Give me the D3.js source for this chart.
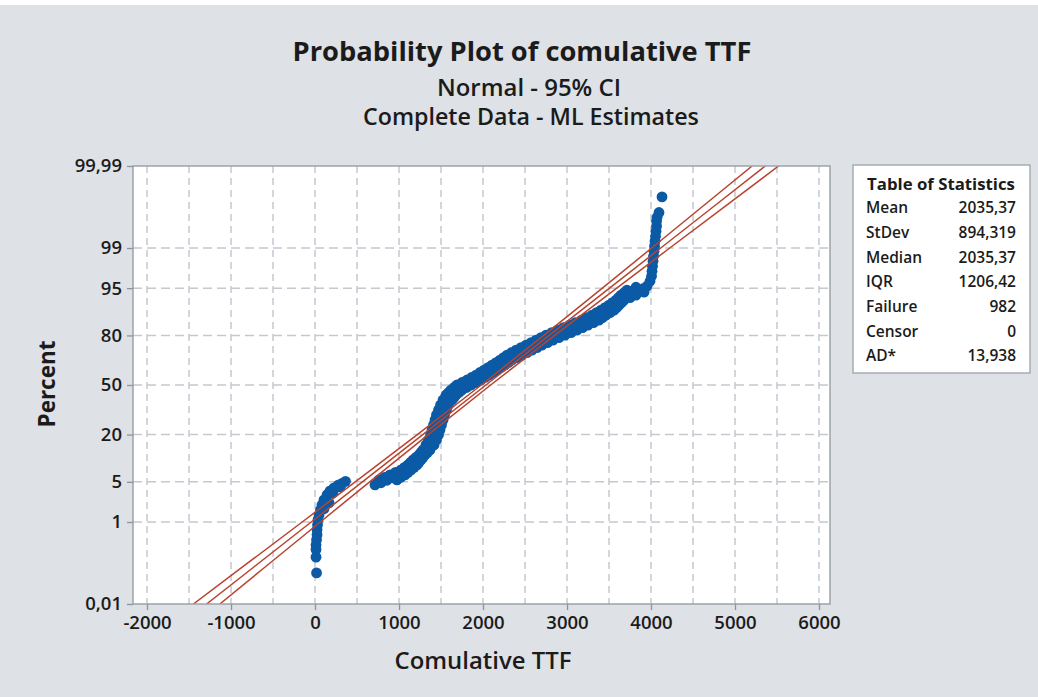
<!DOCTYPE html>
<html><head><meta charset="utf-8">
<script src="https://cdn.jsdelivr.net/npm/d3@7"></script>
<style>body{margin:0;background:#dee1e5;} svg{display:block}</style>
</head><body><svg id="c" width="1038" height="697"></svg>
<script>
// ---------------- DATA ----------------
const xTicks = [-2000, -1000, 0, 1000, 2000, 3000, 4000, 5000, 6000];
const xGrid = [-2000,-1500,-1000,-500,0,500,1000,1500,2000,2500,3000,3500,4000,4500,5000,5500,6000];
const yTickPct = [0.01, 1, 5, 20, 50, 80, 95, 99, 99.99];
const yTickLabels = ["0,01", "1", "5", "20", "50", "80", "95", "99", "99,99"];
const yGridPct = [1, 5, 20, 50, 80, 95, 99];

// fitted normal line and 95% CI (TTF at percent levels)
const ciPct   = [0.01, 0.1, 1, 5, 20, 50, 80, 95, 99, 99.9, 99.99];
const ciFit   = [-1291, -728, -45, 564, 1283, 2035, 2788, 3506, 4116, 4799, 5361];
const ciLower = [-1448, -863, -153, 479, 1218, 1979, 2723, 3421, 4008, 4664, 5204];
const ciUpper = [-1133, -594, 63, 650, 1348, 2091, 2853, 3592, 4223, 4933, 5519];

// observed points [TTF, percent]
const lowCluster = [[18,0.071],[12,0.173],[12,0.26],[12,0.33],[18,0.43],[24,0.55],[24,0.70],[30,0.88],[36,1.11],[48,1.38],[65,1.70],[83,2.10],[107,2.56],[143,3.12],[179,3.62],[226,4.04],[274,4.43],[321,4.75],[363,5.09],
  [107,1.78],[167,2.27],[131,2.47],[214,3.36],[298,4.19]];
const mainCluster = [[714,4.50],[786,4.84],[857,5.28],[929,5.75],[1000,6.36],[1060,7.01],[1119,7.98],[1167,9.03],[1226,10.19],[1274,11.78],[1321,13.53],[1369,15.46],[1399,17.57],[1423,19.85],[1440,22.28],[1458,24.89],[1476,27.66],[1494,30.57],[1518,33.58],[1542,36.73],[1571,39.97],[1607,43.29],[1655,45.95],[1714,47.97],[1774,49.66],[1833,51.35],[1893,53.39],[1952,55.39],[2012,57.39],[2071,59.38],[2131,61.34],[2190,63.59],[2250,65.47],[2310,67.64],[2369,69.43],[2429,70.92],[2488,72.34],[2560,74.02],[2631,75.65],[2702,77.21],[2774,78.72],[2845,79.93],[2917,81.09],[2988,82.22],[3060,83.30],[3131,84.33],[3202,85.33],[3274,86.47],[3345,87.55],[3405,88.56],[3464,89.51],[3524,90.41],[3583,91.51],[3631,92.52],[3679,93.43],[3726,93.96],[3786,94.25],[3845,94.54],[3905,94.90],[3952,95.33],[3988,96.10],[4006,96.76],[4012,97.33],[4018,97.81],[4024,98.22],[4030,98.56],[4036,98.84],[4042,99.08],[4048,99.27],[4054,99.42],[4060,99.55],[4066,99.65],[4066,99.73],[4072,99.78],[4095,99.83],[4131,99.93]];
const upperEdge = [[762,5.37],[828,5.85],[893,6.36],[958,6.90],[1024,7.48],[1066,8.10],[1107,8.76],[1137,9.45],[1167,10.19],[1202,10.96],[1238,11.78],[1262,12.63],[1286,13.53],[1321,15.46],[1351,17.57],[1375,19.85],[1393,22.28],[1411,24.89],[1429,27.66],[1446,30.57],[1470,33.58],[1494,36.73],[1524,39.97],[1560,43.29],[1590,44.94],[1619,46.61],[1655,48.31],[1690,50.0],[1750,51.69],[1810,53.39],[1864,55.06],[1917,56.71],[1964,58.39],[2012,60.03],[2060,61.66],[2107,63.27],[2155,64.85],[2202,66.42],[2244,67.94],[2286,69.43],[2340,70.91],[2393,72.34],[2452,73.75],[2512,75.11],[2572,76.43],[2631,77.72],[2690,78.96],[2750,80.15],[2818,81.32],[2887,82.43],[2958,83.51],[3030,84.54],[3102,85.53],[3173,86.47],[3236,87.37],[3298,88.22],[3352,89.04],[3405,89.81],[3452,90.55],[3500,91.24],[3542,91.90],[3583,92.52],[3613,93.10],[3643,93.64],[3679,94.15],[3714,94.63],[3821,95.16]];
const lowerEdge = [[976,5.37],[1024,5.85],[1071,6.36],[1107,6.90],[1143,7.48],[1179,8.10],[1214,8.76],[1238,9.45],[1262,10.19],[1286,10.96],[1310,11.78],[1340,12.63],[1369,13.53],[1417,15.46],[1446,17.57],[1470,19.85],[1488,22.28],[1506,24.89],[1524,27.66],[1542,30.57],[1565,33.58],[1589,36.73],[1631,39.97],[1655,41.61],[1679,43.29],[1714,44.94],[1750,46.61],[1804,48.31],[1857,50.0],[1917,51.69],[1976,53.39],[2024,55.06],[2071,56.71],[2119,58.39],[2167,60.03],[2214,61.66],[2262,63.27],[2304,64.85],[2345,66.42],[2405,67.94],[2464,69.43],[2524,70.91],[2583,72.34],[2643,73.75],[2702,75.11],[2768,76.43],[2833,77.72],[2904,78.96],[2976,80.15],[3048,81.32],[3119,82.43],[3185,83.51],[3250,84.54],[3316,85.53],[3381,86.47],[3422,87.37],[3464,88.22],[3512,89.04],[3560,89.81],[3590,90.55],[3619,91.24],[3649,91.90],[3679,92.52],[3750,93.10],[3821,93.64],[3917,94.25]];

const statLabels = ["Mean", "StDev", "Median", "IQR", "Failure", "Censor", "AD*"];
const statValues = ["2035,37", "894,319", "2035,37", "1206,42", "982", "0", "13,938"];

// ---------------- HELPERS ----------------
function probit(p){
  const a=[-3.969683028665376e+01,2.209460984245205e+02,-2.759285104469687e+02,1.383577518672690e+02,-3.066479806614716e+01,2.506628277459239e+00];
  const b=[-5.447609879822406e+01,1.615858368580409e+02,-1.556989798598866e+02,6.680131188771972e+01,-1.328068155288572e+01];
  const c=[-7.784894002430293e-03,-3.223964580411365e-01,-2.400758277161838e+00,-2.549732539343734e+00,4.374664141464968e+00,2.938163982698783e+00];
  const d=[7.784695709041462e-03,3.224671290700398e-01,2.445134137142996e+00,3.754408661907416e+00];
  const pl=0.02425, ph=1-pl; let q,r;
  if(p<pl){q=Math.sqrt(-2*Math.log(p));return (((((c[0]*q+c[1])*q+c[2])*q+c[3])*q+c[4])*q+c[5])/((((d[0]*q+d[1])*q+d[2])*q+d[3])*q+1);}
  if(p>ph){q=Math.sqrt(-2*Math.log(1-p));return -(((((c[0]*q+c[1])*q+c[2])*q+c[3])*q+c[4])*q+c[5])/((((d[0]*q+d[1])*q+d[2])*q+d[3])*q+1);}
  q=p-0.5;r=q*q;return (((((a[0]*r+a[1])*r+a[2])*r+a[3])*r+a[4])*r+a[5])*q/(((((b[0]*r+b[1])*r+b[2])*r+b[3])*r+b[4])*r+1);
}
function fitWidth(t, w){
  const l = t.node().getComputedTextLength();
  const fs = parseFloat(t.attr("font-size"));
  if (l > 0) t.attr("font-size", (fs * w / l).toFixed(2));
}

// ---------------- CHART ----------------
const FONT = "'Open Sans', 'Noto Sans', sans-serif";
const TXT = "#1b1b1b";
const svg = d3.select("#c");
svg.append("rect").attr("width", 1038).attr("height", 697).attr("fill", "#dee1e5");
svg.append("rect").attr("width", 1038).attr("height", 5).attr("fill", "#ffffff");

const L = 133, R = 830, T = 166, B = 604;
const x = d3.scaleLinear().domain([-2167, 6131]).range([L, R]);
const z = d3.scaleLinear().domain([probit(0.0001), probit(0.9999)]).range([B, T]);
const y = p => z(probit(p / 100));

svg.append("defs").append("clipPath").attr("id", "clip")
  .append("rect").attr("x", L).attr("y", T).attr("width", R - L).attr("height", B - T);

svg.append("rect").attr("x", L).attr("y", T).attr("width", R - L).attr("height", B - T)
  .attr("fill", "#ffffff");

// grid
const grid = svg.append("g");
grid.selectAll("line.v").data(xGrid).join("line").attr("class", "v")
  .attr("x1", d => x(d)).attr("x2", d => x(d)).attr("y1", T).attr("y2", B)
  .attr("stroke", "#c4c9ce").attr("stroke-width", 1.5).attr("stroke-dasharray", "7,5");
grid.selectAll("line.h").data(yGridPct).join("line").attr("class", "h")
  .attr("x1", L).attr("x2", R).attr("y1", d => y(d)).attr("y2", d => y(d))
  .attr("stroke", "#c4c9ce").attr("stroke-width", 1.5).attr("stroke-dasharray", "9,5");

// points
const pts = lowCluster.concat(mainCluster, upperEdge, lowerEdge);
svg.append("g").selectAll("circle").data(pts).join("circle")
  .attr("cx", d => x(d[0])).attr("cy", d => y(d[1])).attr("r", 5.4)
  .attr("fill", "#0b5aa6");

// fit + CI lines
const lineGen = d3.line().x(d => x(d[0])).y(d => y(d[1]));
const ciG = svg.append("g").attr("clip-path", "url(#clip)");
[ciLower, ciFit, ciUpper].forEach(arr => {
  ciG.append("path").datum(arr.map((v, i) => [v, ciPct[i]]))
    .attr("d", lineGen).attr("fill", "none")
    .attr("stroke", "#b8432e").attr("stroke-width", 1.5);
});

// frame
svg.append("rect").attr("x", L).attr("y", T).attr("width", R - L).attr("height", B - T)
  .attr("fill", "none").attr("stroke", "#9ba2a9").attr("stroke-width", 1.5);

// axes
const xAxis = svg.append("g").attr("transform", `translate(0,${B})`)
  .call(d3.axisBottom(x).tickValues(xTicks).tickFormat(d => String(d)).tickSize(6).tickPadding(12));
const yAxis = svg.append("g").attr("transform", `translate(${L},0)`)
  .call(d3.axisLeft(z).tickValues(yTickPct.map(p => probit(p / 100)))
    .tickFormat((d, i) => yTickLabels[i]).tickSize(6).tickPadding(5));
[xAxis, yAxis].forEach(g => {
  g.select(".domain").remove();
  g.selectAll(".tick line").attr("stroke", "#8d949b").attr("stroke-width", 1.3);
  g.selectAll(".tick text").attr("fill", TXT).attr("font-family", FONT)
    .attr("font-size", 18.5).attr("font-weight", 600);
});
xAxis.selectAll(".tick text").attr("dy", "0.71em").attr("y", 12);

// titles
const title = svg.append("text").attr("x", 522).attr("y", 61).attr("text-anchor", "middle")
  .attr("font-family", FONT).attr("font-weight", 700).attr("font-size", 24).attr("fill", TXT)
  .text("Probability Plot of comulative TTF");
fitWidth(title, 459);
const sub1 = svg.append("text").attr("x", 529).attr("y", 96).attr("text-anchor", "middle")
  .attr("font-family", FONT).attr("font-weight", 600).attr("font-size", 20).attr("fill", TXT)
  .text("Normal - 95% CI");
fitWidth(sub1, 184);
const sub2 = svg.append("text").attr("x", 531).attr("y", 125).attr("text-anchor", "middle")
  .attr("font-family", FONT).attr("font-weight", 600).attr("font-size", 20).attr("fill", TXT)
  .text("Complete Data - ML Estimates");
fitWidth(sub2, 336);
const xt = svg.append("text").attr("x", 483).attr("y", 669).attr("text-anchor", "middle")
  .attr("font-family", FONT).attr("font-weight", 600).attr("font-size", 20).attr("fill", TXT)
  .text("Comulative TTF");
fitWidth(xt, 177);
const yt = svg.append("text").attr("transform", "translate(55,384) rotate(-90)").attr("text-anchor", "middle")
  .attr("font-family", FONT).attr("font-weight", 700).attr("font-size", 20).attr("fill", TXT)
  .text("Percent");
fitWidth(yt, 87);

// table of statistics
const lg = svg.append("g");
lg.append("rect").attr("x", 853).attr("y", 165).attr("width", 177).attr("height", 208)
  .attr("fill", "#ffffff").attr("stroke", "#a6acb2").attr("stroke-width", 1.5);
const lt = lg.append("text").attr("x", 941).attr("y", 184).attr("dy", "0.35em").attr("text-anchor", "middle")
  .attr("font-family", FONT).attr("font-weight", 700).attr("font-size", 15).attr("fill", TXT)
  .text("Table of Statistics");
fitWidth(lt, 148);
lg.selectAll("text.lab").data(statLabels).join("text").attr("class", "lab")
  .attr("x", 866).attr("y", (d, i) => 208 + i * 24.67).attr("dy", "0.35em")
  .attr("font-family", FONT).attr("font-weight", 600).attr("font-size", 15.5).attr("fill", TXT)
  .text(d => d);
lg.selectAll("text.val").data(statValues).join("text").attr("class", "val")
  .attr("x", 1016).attr("y", (d, i) => 208 + i * 24.67).attr("dy", "0.35em").attr("text-anchor", "end")
  .attr("font-family", FONT).attr("font-weight", 600).attr("font-size", 15.5).attr("fill", TXT)
  .text(d => d);
</script>
</body></html>
